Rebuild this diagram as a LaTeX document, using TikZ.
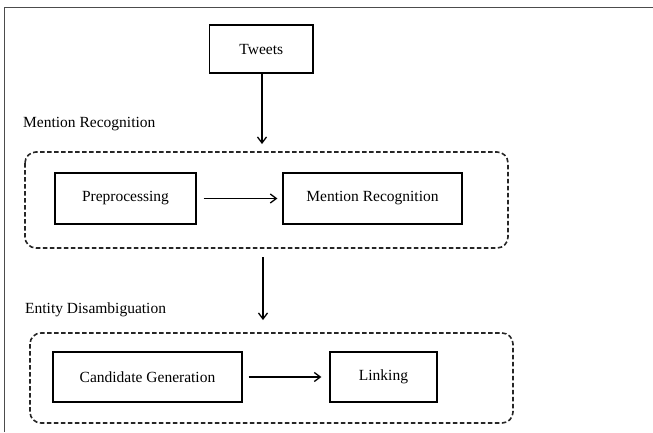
\documentclass[tikz,border=0pt]{standalone}
\usepackage{fontspec}
\setmainfont{Liberation Serif}
\usetikzlibrary{arrows.meta}
\begin{document}
\begin{tikzpicture}[x=1pt,y=-1pt,
  every node/.style={font=\fontsize{15.5}{18}\selectfont, inner sep=0pt},
  stagebox/.style={draw=black, line width=1.3pt, minimum width=#1, minimum height=50},
  groupbox/.style={draw=black!85, line width=1.6pt, dashed, dash pattern=on 4.5pt off 2.5pt, rounded corners=11pt},
  flow/.style={draw=black, line width=1.3pt, -{Straight Barb[length=6pt,width=9pt,line width=1.3pt]}},
  grouplabel/.style={anchor=west}]
\useasboundingbox (0,0) rectangle (653,432);
% outer frame (only its top and left sides fall inside the page)
\draw[line width=1.8pt, draw=black!70] (4.5,432) -- (4.5,7.5) -- (653,7.5);

% dashed stage groups
\draw[groupbox] (25,152) rectangle (508,248);
\draw[groupbox] (30,333) rectangle (513,423);
\coordinate (grp1top) at (262,152);
\coordinate (grp1bot) at (263,248);
\coordinate (grp2top) at (263,333);

% group titles
\node[grouplabel] (lblmr) at (23,124) {Mention Recognition};
\node[grouplabel] (lbled) at (25,310) {Entity Disambiguation};

% stage boxes
\node[stagebox=103.5, minimum height=48] (tweets) at (261.25,49) {Tweets};
\node[stagebox=141, minimum height=51] (prep) at (125.5,198.5) {Preprocessing};
\node[stagebox=179, minimum height=51] (mrec) at (372.5,198.5) {Mention Recognition};
\node[stagebox=189] (cand) at (147.5,377) {Candidate Generation};
\node[stagebox=107] (link) at (383.5,377) {Linking};

% connectors
\draw[flow, shorten >=8pt] (tweets.south -| grp1top) -- (grp1top);
\draw[flow] ([xshift=7pt]prep.east) -- ([xshift=-5pt]mrec.west);
\draw[flow, shorten <=9pt, shorten >=13pt] (grp1bot) -- (grp2top);
\draw[flow] ([xshift=6pt]cand.east) -- ([xshift=-8pt]link.west);
\end{tikzpicture}
\end{document}
